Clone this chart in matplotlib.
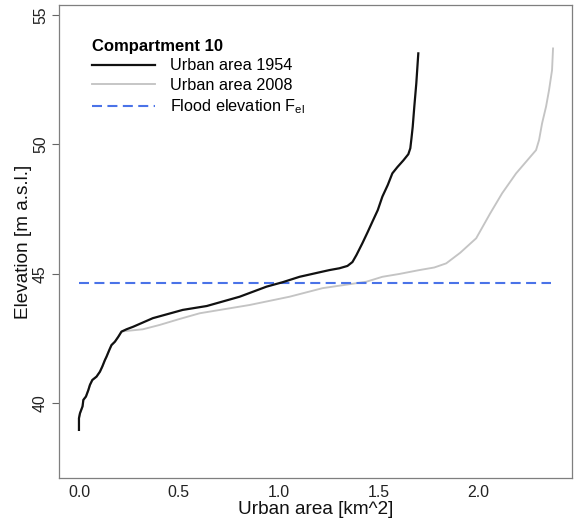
import matplotlib
matplotlib.use("Agg")
import matplotlib.pyplot as plt

plt.rcParams['font.family'] = ['Liberation Sans', 'DejaVu Sans']
plt.rcParams['mathtext.default'] = 'regular'

# Urban area 1954 (km^2) vs elevation (m a.s.l.)
area_1954 = [0.0, 0.0, 0.005, 0.018, 0.022, 0.035, 0.047, 0.055, 0.067, 0.088, 0.105,
             0.117, 0.13, 0.138, 0.152, 0.163, 0.18, 0.197, 0.213, 0.238, 0.272, 0.37,
             0.52, 0.64, 0.805, 0.94, 1.02, 1.105, 1.22, 1.255, 1.305, 1.345, 1.37, 1.39, 1.42,
             1.447, 1.47, 1.497, 1.52, 1.547, 1.57, 1.595, 1.625, 1.65, 1.66, 1.666, 1.672,
             1.68, 1.69, 1.70]
elev_1954 = [38.96, 39.41, 39.6, 39.87, 40.12, 40.25, 40.5, 40.70, 40.89, 41.02, 41.21,
             41.41, 41.66, 41.79, 42.05, 42.24, 42.37, 42.56, 42.76, 42.85, 42.95, 43.28,
             43.6, 43.75, 44.11, 44.5, 44.67, 44.88, 45.08, 45.14, 45.21, 45.3, 45.45, 45.72, 46.18,
             46.62, 47.01, 47.46, 47.98, 48.43, 48.88, 49.12, 49.38, 49.62, 49.85, 50.25, 50.68,
             51.46, 52.36, 53.52]

# Urban area 2008
area_2008 = [0.0, 0.0, 0.005, 0.018, 0.022, 0.035, 0.047, 0.055, 0.067, 0.088, 0.105,
             0.117, 0.13, 0.138, 0.152, 0.163, 0.18, 0.197, 0.213, 0.23, 0.32, 0.405,
             0.50, 0.605, 0.855, 1.055, 1.22, 1.44, 1.52, 1.605, 1.705, 1.78, 1.84, 1.91, 1.99,
             2.06, 2.12, 2.19, 2.24, 2.29, 2.305, 2.32, 2.34, 2.355, 2.37, 2.375]
elev_2008 = [38.96, 39.41, 39.6, 39.87, 40.12, 40.25, 40.5, 40.70, 40.89, 41.02, 41.21,
             41.41, 41.66, 41.79, 42.05, 42.24, 42.37, 42.56, 42.76, 42.78, 42.85, 43.02,
             43.24, 43.47, 43.79, 44.11, 44.44, 44.69, 44.88, 44.99, 45.14, 45.24, 45.4, 45.81, 46.37,
             47.33, 48.11, 48.88, 49.33, 49.78, 50.17, 50.81, 51.46, 52.1, 52.87, 53.71]

flood_elev = 44.63
flood_x = [0.0, 2.365]

xticks = [0.0, 0.5, 1.0, 1.5, 2.0]
xticklabels = ["0.0", "0.5", "1.0", "1.5", "2.0"]
yticks = [40, 45, 50, 55]

fig = plt.figure(figsize=(5.74, 5.20), dpi=100)
ax = fig.add_axes([59/574, 1-478/520, (572-59)/574, (478-5)/520])

ax.plot(area_1954, elev_1954, color='#111111', lw=1.6, label='Urban area 1954', zorder=3)
ax.plot(area_2008, elev_2008, color='#C4C4C4', lw=1.35, label='Urban area 2008', zorder=2)
ax.plot(flood_x, [flood_elev, flood_elev], color='#4A73E8', lw=1.5, dashes=(4.8, 2.6),
        label='Flood elevation F$_{el}$', zorder=2)

ax.set_xlim(-0.1, 2.47)
ax.set_ylim(37.1, 55.39)

ax.set_xticks(xticks)
ax.set_xticklabels(xticklabels)
ax.set_yticks(yticks)
ax.set_yticklabels([str(v) for v in yticks], rotation=90, va='center')
ax.tick_params(axis='x', length=0, pad=5, labelsize=11.4, colors='#222222')
ax.tick_params(axis='y', length=5, width=0.8, pad=3, labelsize=11.4, colors='#222222')
ax.tick_params(axis='y', color='#666666')

for s in ax.spines.values():
    s.set_color('#7f7f7f')
    s.set_linewidth(0.9)

ax.set_xlabel('Urban area [km^2]', fontsize=13.7, labelpad=1, color='#111111')
ax.set_ylabel('Elevation [m a.s.l.]', fontsize=13.7, labelpad=0.5, color='#111111')

leg = ax.legend(loc='upper left', bbox_to_anchor=(0.064, 0.929), frameon=False,
                borderpad=0, borderaxespad=0, fontsize=11.7,
                title='Compartment 10',
                title_fontproperties={'weight': 'bold', 'size': 12},
                handlelength=3.9, handletextpad=0.9, labelspacing=0.29,
                alignment='left')

fig.savefig('out.png', dpi=100)
